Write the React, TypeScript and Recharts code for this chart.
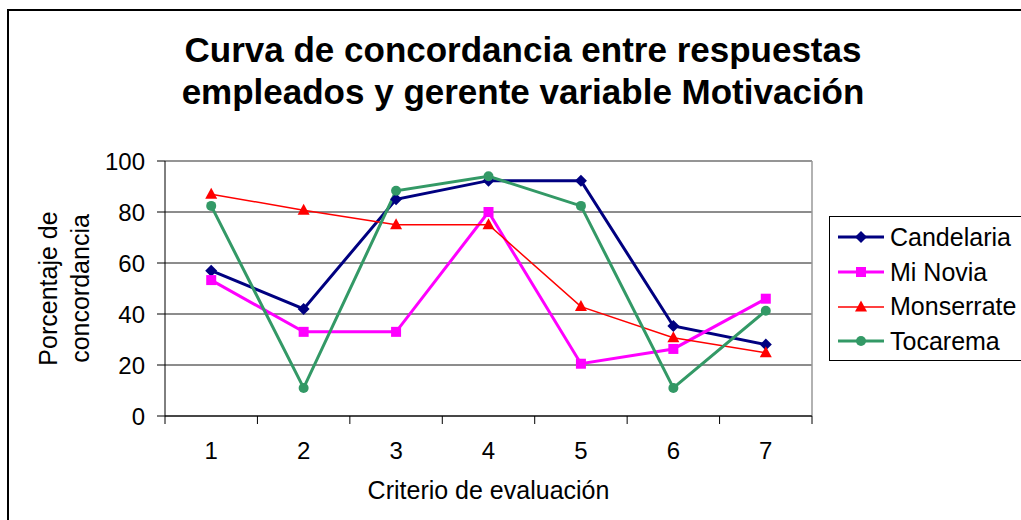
import React from 'react';
import {
  LineChart,
  Line,
  XAxis,
  YAxis,
  CartesianGrid,
  ReferenceLine,
  Legend,
  Label,
} from 'recharts';

const CRITERIA = [1, 2, 3, 4, 5, 6, 7];
const BOUNDARIES = [0.5, 1.5, 2.5, 3.5, 4.5, 5.5, 6.5, 7.5];
const Y_TICKS = [0, 20, 40, 60, 80, 100];

const CANDELARIA = [57, 42, 85, 92.3, 92.3, 35.3, 28];
const MI_NOVIA = [53.3, 33, 33, 80, 20.5, 26.3, 46];
const MONSERRATE = [87, 80.7, 75, 75, 42.9, 30.7, 24.8];
const TOCAREMA = [82.4, 11, 88.3, 94, 82.4, 11, 41.3];

const FONT = '"Liberation Sans", Arial, sans-serif';

const SERIES = [
  { key: 'candelaria', name: 'Candelaria', color: '#000080', width: 3, shape: 'diamond' },
  { key: 'miNovia', name: 'Mi Novia', color: '#FF00FF', width: 3, shape: 'square' },
  { key: 'monserrate', name: 'Monserrate', color: '#FF0000', width: 1.5, shape: 'triangle' },
  { key: 'tocarema', name: 'Tocarema', color: '#339966', width: 3, shape: 'circle' },
];

const data = CRITERIA.map((c, i) => ({
  criterio: c,
  candelaria: CANDELARIA[i],
  miNovia: MI_NOVIA[i],
  monserrate: MONSERRATE[i],
  tocarema: TOCAREMA[i],
}));

function Marker({ shape, color, cx, cy }: { shape: string; color: string; cx: number; cy: number }) {
  if (shape === 'diamond') {
    return <polygon points={`${cx},${cy - 6} ${cx + 6},${cy} ${cx},${cy + 6} ${cx - 6},${cy}`} fill={color} />;
  }
  if (shape === 'square') {
    return <rect x={cx - 5} y={cy - 5} width={10} height={10} fill={color} />;
  }
  if (shape === 'triangle') {
    return <polygon points={`${cx},${cy - 6.5} ${cx + 6},${cy + 4.5} ${cx - 6},${cy + 4.5}`} fill={color} />;
  }
  return <circle cx={cx} cy={cy} r={5} fill={color} />;
}

function LegendBox() {
  return (
    <div
      style={{
        border: '1.5px solid #000',
        background: '#fff',
        width: 200,
        height: 145,
        boxSizing: 'border-box',
        paddingTop: 3,
        fontFamily: FONT,
        fontSize: 25,
        color: '#000',
      }}
    >
      {SERIES.map((s) => (
        <div key={s.key} style={{ display: 'flex', alignItems: 'center', height: 34.7 }}>
          <svg width={60} height={20} style={{ flex: 'none' }}>
            <line x1={8} x2={54} y1={10} y2={10} stroke={s.color} strokeWidth={s.width} />
            <Marker shape={s.shape} color={s.color} cx={31} cy={10} />
          </svg>
          <span style={{ whiteSpace: 'nowrap' }}>{s.name}</span>
        </div>
      ))}
    </div>
  );
}

function YLabel(props: any) {
  const vb = props.viewBox || {};
  const cy = vb.y + vb.height / 2;
  return (
    <g fontFamily={FONT} fontSize={25} fill="#000">
      <text x={vb.x + 48} y={cy} textAnchor="middle" dominantBaseline="central" transform={`rotate(-90 ${vb.x + 48} ${cy})`}>
        Porcentaje de
      </text>
      <text x={vb.x + 80} y={cy} textAnchor="middle" dominantBaseline="central" transform={`rotate(-90 ${vb.x + 80} ${cy})`}>
        concordancia
      </text>
    </g>
  );
}

export default function App() {
  return (
    <div
      style={{
        position: 'absolute',
        left: 0,
        top: 0,
        width: 1021,
        height: 520,
        overflow: 'hidden',
        background: '#fff',
        fontFamily: FONT,
      }}
    >
      <div
        style={{
          position: 'absolute',
          left: 7,
          top: 9,
          width: 1040,
          height: 540,
          border: '2px solid #000',
        }}
      />
      <div
        style={{
          position: 'absolute',
          left: 23,
          top: 29,
          width: 1000,
          textAlign: 'center',
          fontSize: 35,
          lineHeight: '42px',
          fontWeight: 'bold',
          color: '#000',
        }}
      >
        Curva de concordancia entre respuestas
        <br />
        empleados y gerente variable Motivación
      </div>
      <div style={{ position: 'absolute', left: 0, top: 0 }}>
        <LineChart width={1021} height={520} data={data} margin={{ top: 161, right: 209, bottom: 0, left: 0 }}>
          <CartesianGrid xAxisId="a" vertical={false} stroke="#1a1a1a" strokeWidth={1} />
          <XAxis
            xAxisId="a"
            dataKey="criterio"
            type="number"
            domain={[0.5, 7.5]}
            ticks={BOUNDARIES}
            tickFormatter={() => ''}
            tickSize={8}
            height={8}
            stroke="#000"
            tickLine={{ stroke: '#000' }}
            axisLine={{ stroke: '#000' }}
          />
          <XAxis
            xAxisId="b"
            dataKey="criterio"
            type="number"
            domain={[0.5, 7.5]}
            ticks={CRITERIA}
            axisLine={false}
            tickLine={false}
            tickSize={0}
            tickMargin={18}
            height={96}
            tick={{ fill: '#000', fontSize: 24, fontFamily: FONT }}
          >
            <Label value="Criterio de evaluación" position="insideTop" offset={57} fill="#000" fontSize={25} fontFamily={FONT} />
          </XAxis>
          <YAxis
            type="number"
            domain={[0, 100]}
            ticks={Y_TICKS}
            width={165}
            tickSize={8}
            tickMargin={12}
            stroke="#000"
            tick={{ fill: '#000', fontSize: 24, fontFamily: FONT }}
            label={<YLabel />}
          />
          <ReferenceLine xAxisId="a" y={100} stroke="#999" strokeWidth={1.5} />
          <ReferenceLine xAxisId="a" x={7.5} stroke="#999" strokeWidth={1.5} />
          {SERIES.map((s) => (
            <Line
              key={s.key}
              xAxisId="a"
              dataKey={s.key}
              name={s.name}
              type="linear"
              stroke={s.color}
              strokeWidth={s.width}
              isAnimationActive={false}
              dot={(p: any) => <Marker key={`${s.key}-${p.index}`} shape={s.shape} color={s.color} cx={p.cx} cy={p.cy} />}
              activeDot={false}
            />
          ))}
          <Legend
            layout="vertical"
            align="center"
            verticalAlign="middle"
            content={() => <LegendBox />}
            wrapperStyle={{ position: 'absolute', left: 829, top: 216, width: 200 }}
          />
        </LineChart>
      </div>
    </div>
  );
}
